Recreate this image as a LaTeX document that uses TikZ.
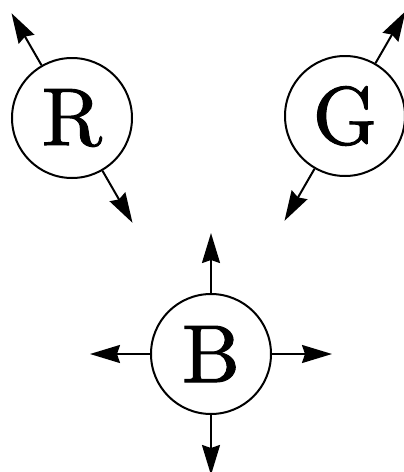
\documentclass[tikz,border=0pt]{standalone}
\usepackage{fontspec}
\newfontfamily\heavyfont{lmroman10-regular.otf}[FakeBold=1.2]
\usetikzlibrary{arrows.meta,calc}
\begin{document}
\begin{tikzpicture}[x=1pt,y=-1pt,
  ball/.style={circle,draw,line width=2pt,minimum size=120pt,inner sep=0pt,
    font=\heavyfont\fontsize{82}{82}\selectfont},
  outarrow/.style={line width=2pt,-{Stealth[length=30pt,width=18pt,inset=3pt]}}]
\useasboundingbox[fill=white] (0,0) rectangle (404,472);
\node[ball] (R) at (72,118) {R};
\node[ball] (G) at (345,116) {G};
\node[ball] (B) at (211,354) {B};
\foreach \n/\a in {R/120,R/300,G/60,G/240,B/90,B/180,B/0,B/270}{
  \coordinate (\n tip\a) at ($(\n.\a)+(\a:60pt)$);
  \draw[outarrow] (\n.\a) -- (\n tip\a);
}
\end{tikzpicture}
\end{document}
